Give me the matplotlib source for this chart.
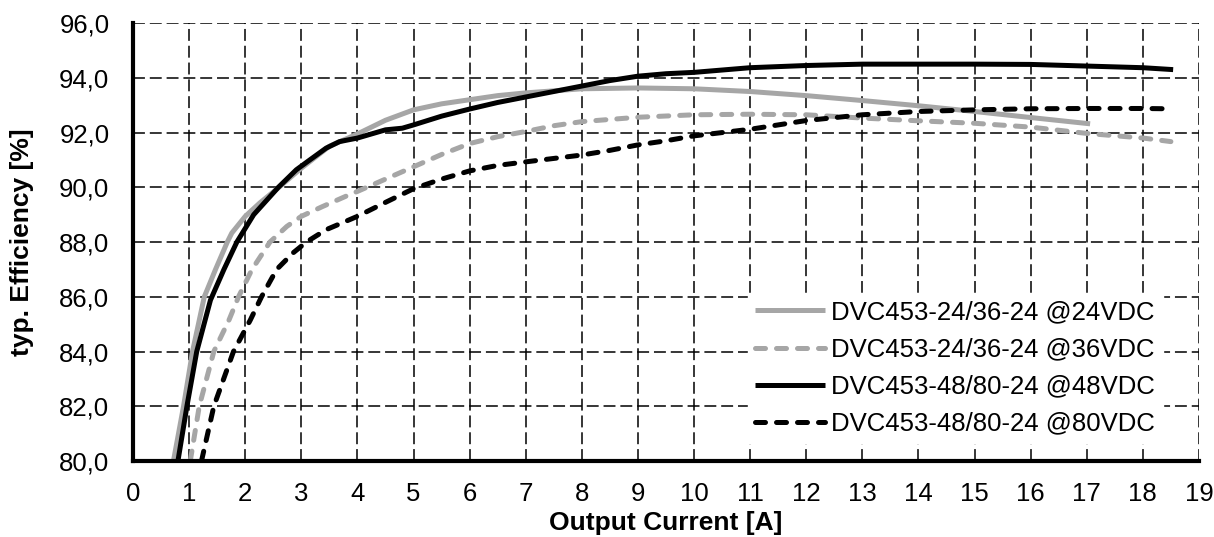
import matplotlib
matplotlib.use('Agg')
import matplotlib.pyplot as plt
from matplotlib.ticker import FuncFormatter

plt.rcParams['font.family'] = ['Liberation Sans', 'DejaVu Sans']

# DVC453-24/36-24 @24VDC
x_24 = [0.72, 0.9, 1.06, 1.27, 1.47, 1.68, 1.76, 2.0, 2.26, 2.6, 3.0, 3.5, 4.0, 4.5,
        5.0, 5.5, 6.0, 6.5, 7.0, 8.0, 9.0, 10, 11, 12, 13, 14, 15, 16, 17.06]
y_24 = [80, 82, 84, 86, 87, 88, 88.33, 88.94, 89.43, 90.0, 90.7, 91.5, 91.95, 92.45,
        92.83, 93.05, 93.2, 93.35, 93.45, 93.6, 93.63, 93.6, 93.5, 93.35, 93.17, 92.98,
        92.77, 92.55, 92.32]

# DVC453-24/36-24 @36VDC
x_36 = [1.02, 1.18, 1.44, 1.71, 1.88, 2.12, 2.44, 2.74, 3.0, 3.38, 3.79, 4.0, 4.5, 5.0,
        5.5, 6.0, 6.5, 7.0, 7.5, 8.0, 9.0, 10, 11, 12, 13, 14, 15, 16, 17, 18, 18.5]
y_36 = [80, 82, 84, 85.15, 86, 87, 88, 88.57, 88.94, 89.3, 89.67, 89.85, 90.3, 90.75,
        91.2, 91.6, 91.85, 92.04, 92.25, 92.4, 92.56, 92.65, 92.67, 92.65, 92.53, 92.43,
        92.34, 92.2, 91.97, 91.8, 91.67]

# DVC453-48/80-24 @48VDC
x_48 = [0.8, 0.96, 1.135, 1.38, 1.62, 1.85, 2.15, 2.59, 2.91, 3.15, 3.44, 3.68, 4.0,
        4.5, 4.8, 5.0, 5.5, 6.0, 6.5, 7.0, 7.5, 8.0, 8.5, 9.0, 9.5, 10, 11, 12, 13, 14,
        15, 16, 17, 18, 18.54]
y_48 = [80, 82, 84, 85.88, 87, 88, 89, 90, 90.64, 91, 91.43, 91.67, 91.8,
        92.1, 92.16, 92.28, 92.6, 92.86, 93.1, 93.3, 93.5, 93.7, 93.9, 94.06, 94.15, 94.2,
        94.37, 94.45, 94.5, 94.5, 94.5, 94.49, 94.43, 94.37, 94.3]

# DVC453-48/80-24 @80VDC
x_80 = [1.22, 1.44, 1.79, 2.09, 2.29, 2.56, 2.85, 3.09, 3.44, 4.0, 4.5, 5.0, 5.5, 6.0,
        6.5, 7.0, 8.0, 8.5, 9.0, 9.5, 10, 11, 12, 13, 14, 15, 16, 17, 18, 18.44]
y_80 = [80, 82, 84, 85.15, 86, 87, 87.6, 88, 88.45, 88.94, 89.45, 89.95, 90.3, 90.6,
        90.8, 90.93, 91.18, 91.35, 91.55, 91.7, 91.88, 92.12, 92.44, 92.65, 92.77, 92.83,
        92.87, 92.88, 92.88, 92.87]

labels = ["DVC453-24/36-24 @24VDC", "DVC453-24/36-24 @36VDC",
          "DVC453-48/80-24 @48VDC", "DVC453-48/80-24 @80VDC"]

x_ticks = list(range(0, 20))
y_ticks = [80, 82, 84, 86, 88, 90, 92, 94, 96]

grey = '#a6a6a6'
dash = (0, (2.0, 2.2))

fig = plt.figure(figsize=(12.14, 5.37), dpi=100)
ax = fig.add_axes([0.1096, 0.1415, 0.8780, 0.8155])

ax.plot(x_24, y_24, color=grey, lw=3.6, label=labels[0], solid_capstyle='butt', solid_joinstyle='round')
ax.plot(x_36, y_36, color=grey, lw=3.6, linestyle=dash, dash_capstyle='round', label=labels[1])
ax.plot(x_48, y_48, color='black', lw=3.6, label=labels[2], solid_capstyle='butt', solid_joinstyle='round')
ax.plot(x_80, y_80, color='black', lw=3.6, linestyle=dash, dash_capstyle='round', label=labels[3])

ax.set_xlim(0, 19)
ax.set_ylim(80, 96)
ax.set_xticks(x_ticks)
ax.set_yticks(y_ticks)
ax.yaxis.set_major_formatter(FuncFormatter(lambda v, p: ('%.1f' % v).replace('.', ',')))

ax.grid(True, color='black', lw=1.1, linestyle=(0, (7.8, 3.2)))
ax.set_axisbelow(True)

ax.spines['top'].set_visible(False)
ax.spines['right'].set_visible(False)
ax.spines['left'].set_linewidth(3)
ax.spines['bottom'].set_linewidth(3)

ax.tick_params(axis='both', length=0, labelsize=18.5)
ax.tick_params(axis='y', pad=17)
ax.tick_params(axis='x', pad=15)

ax.set_xlabel('Output Current [A]', fontsize=19, fontweight='bold', labelpad=4)
ax.set_ylabel('typ. Efficiency [%]', fontsize=19, fontweight='bold', labelpad=18)

leg = ax.legend(loc='lower right', bbox_to_anchor=(0.966, 0.04), fontsize=18.5,
                frameon=True, fancybox=False, edgecolor='white', framealpha=1,
                handlelength=2.7, handletextpad=0.25, labelspacing=0.51,
                borderpad=0.3, borderaxespad=0)

plt.savefig('out.png', dpi=100)
